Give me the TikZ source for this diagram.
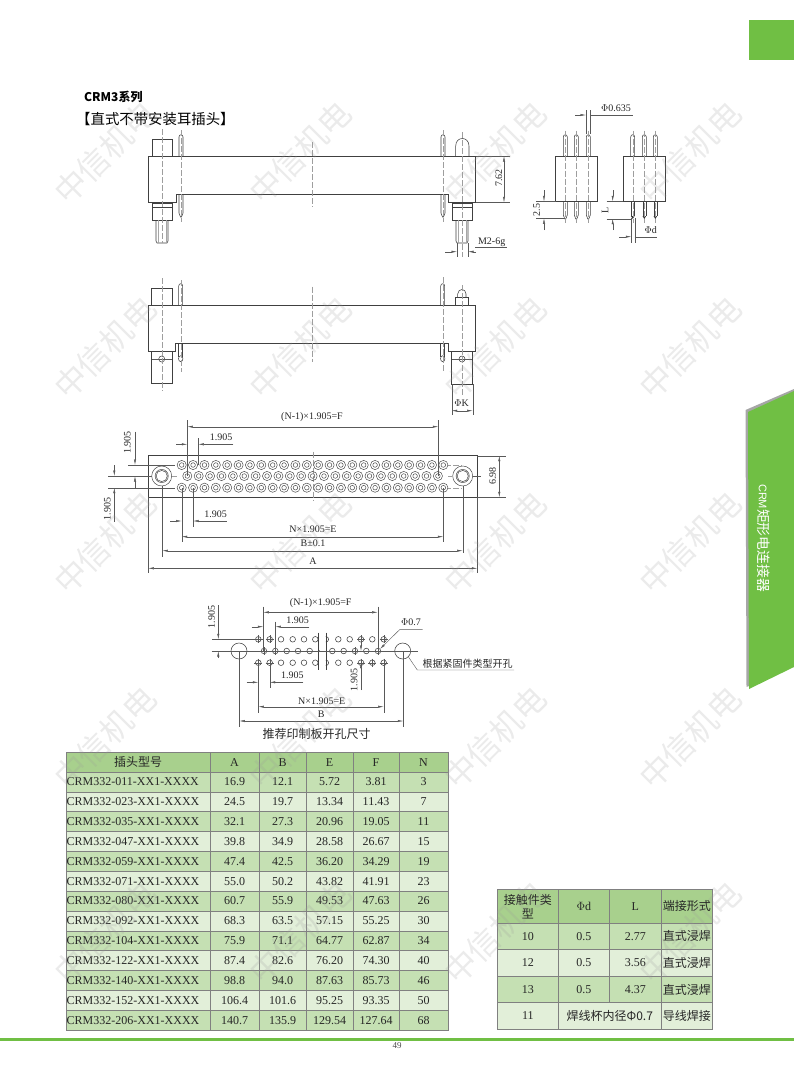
\documentclass[tikz,border=0pt]{standalone}
\usepackage{fontspec}
\setmainfont{Liberation Serif}
\newfontfamily\cjk{Noto Sans CJK SC}
\newfontfamily\arialfont{Liberation Sans}
\usetikzlibrary{arrows.meta}
\definecolor{pagegreen}{HTML}{70BF44}
\definecolor{headgreen}{HTML}{A8D08D}
\definecolor{rowdark}{HTML}{C5E0B3}
\definecolor{rowlight}{HTML}{E2EFD9}

\newcommand\pinrnd[3]{\draw[part] (#1-2,#3) -- (#1-2,#2+3) .. controls (#1-2,#2) and (#1+2,#2) .. (#1+2,#2+3) -- (#1+2,#3);}
\newcommand\pinlow[3]{\draw[part] (#1-2,#2) -- (#1-2,#3-4) -- (#1-.5,#3) -- (#1+.5,#3) -- (#1+2,#3-4) -- (#1+2,#2);}
\newcommand\pintip[3]{\draw[part] (#1-1.5,#2) -- (#1-1.5,#3-3) (#1+1.5,#2) -- (#1+1.5,#3-3); \fill[black!80] (#1-1.8,#3-3) -- (#1+1.8,#3-3) -- (#1,#3) -- cycle;}
\newcommand\pincup[3]{\draw[part] (#1-2,#2) -- (#1-2,#3-5) (#1+2,#2) -- (#1+2,#3-5); \draw[part] (#1,#3-3) ellipse[x radius=2.2,y radius=3];}
\newcommand\studside[1]{%
  \draw[part] (#1-10,203) rectangle (#1+10,220);
  \draw[part] (#1-10,207) -- (#1+10,207);
  \draw[part] (#1-6,220) -- (#1-6,241) -- (#1-5,243) -- (#1+5,243) -- (#1+6,241) -- (#1+6,220);
  \draw[part,black!35] (#1-4,220) -- (#1-4,243) (#1+4,220) -- (#1+4,243);
}
\newcommand\tabcell[7]{\node[tabcell,fill=#5,minimum width={(#3-#1)*1pt},minimum height={(#4-#2)*1pt}] (#6) at ({(#1+#3)/2},{(#2+#4)/2}) {#7};}

\begin{document}
\begin{tikzpicture}[x=1pt,y=-1pt,
  part/.style={line width=.55pt,draw=black!75},
  axisline/.style={line width=.4pt,draw=black!38,dash pattern=on 6pt off 2pt},
  dimline/.style={line width=.4pt,draw=black!65},
  dimtip/.style={dimline,-{Latex[length=5.5pt,width=2.2pt]}},
  dimboth/.style={dimline,{Latex[length=5.5pt,width=2.2pt]}-{Latex[length=5.5pt,width=2.2pt]}},
  dimtxt/.style={font=\fontsize{10}{11}\selectfont,inner sep=0pt,text=black!85},
  cjktxt/.style={font=\cjk\fontsize{#1}{#1}\selectfont,inner sep=0pt,text=black!85},
  tabcell/.style={draw=black!50,line width=.5pt,inner sep=0pt,font=\fontsize{12}{12}\selectfont,text=black!85},
  wmark/.style={font=\cjk\fontsize{32}{32}\selectfont,rotate=45,text=black!40,opacity=.2,inner sep=0pt}]
\useasboundingbox (0,0) rectangle (794,1077);

% page furniture
\fill[pagegreen] (749,20) rectangle (794,60);
\fill[black!35] (745.5,410) -- (794,389) -- (794,664) -- (746.5,687) -- cycle;
\fill[pagegreen] (748,412) -- (794,391) -- (794,667) -- (749,689) -- cycle;
\node[rotate=-90,inner sep=0pt,text=white,font=\arialfont\fontsize{11}{12}\selectfont] (sidetab) at (764,538) {CRM{\cjk\fontsize{13.8}{14}\selectfont 矩形电连接器}};
\fill[pagegreen] (0,1038) rectangle (794,1041);
\node[font=\fontsize{9}{9}\selectfont,text=black!70,inner sep=0pt] (pageno) at (397,1046) {49};

\node[font=\cjk\bfseries\fontsize{12}{12}\selectfont,inner sep=0pt,anchor=west] (title) at (84,97) {CRM3系列};
\node[cjktxt=14.4,anchor=west,text=black] (subtitle) at (76,119) {【直式不带安装耳插头】};

% view 1
\draw[part] (148.3,156) -- (475.7,156) -- (475.7,202.3) -- (448.3,202.3) -- (448.3,194.3) -- (176,194.3) -- (176,202.3) -- (148.3,202.3) -- cycle;
\draw[part] (152,156) -- (152,139) -- (172,139) -- (172,156);
\draw[part] (455.7,156) -- (455.7,146) .. controls (455.7,136) and (469,136) .. (469,146) -- (469,156);
\studside{162}
\studside{462}
\pinrnd{181}{134}{156}
\pinlow{181}{194.3}{217}
\pinrnd{443}{134}{156}
\pinlow{443}{194.3}{217}
\draw[axisline] (161.7,129) -- (161.7,243) (181,130) -- (181,222) (311.7,142) -- (311.7,207) (443,130) -- (443,222) (462,132) -- (462,257);
\draw[dimline] (476,156) -- (510,156) (476,202.3) -- (510,202.3);
\draw[dimboth] (504,156) -- (504,202.3);
\node[dimtxt,rotate=90] (lbl762) at (499,178) {7.62};
\node[dimtxt] (lblm2) at (491.7,242) {M2-6g};
\draw[dimline] (475,247) -- (507,247) (457,243) -- (457,257) (468,243) -- (468,257);
\draw[dimtip] (445,251.7) -- (457,251.7);
\draw[dimtip] (476,251.7) -- (468,251.7);

% side views
\draw[part] (555.7,156) rectangle (597.7,201.3);
\foreach \x in {565.3,576.3,588.3} {
  \pinrnd{\x}{134}{156}
  \pinlow{\x}{201.3}{219}
  \draw[axisline] (\x,130.7) -- (\x,223);
}
\draw[dimline] (586,110) -- (586,134) (590.3,110) -- (590.3,134) (590.3,115) -- (633,115);
\draw[dimtip] (575,115) -- (586,115);
\node[dimtxt] (lbl635) at (616,108) {$\Phi$0.635};
\draw[dimline] (536,201.3) -- (555.7,201.3) (536,218.3) -- (565,218.3);
\draw[dimtip] (544,190) -- (544,201.3);
\draw[dimtip] (544,230) -- (544,218.3);
\node[dimtxt,rotate=90] (lbl25) at (536.7,210) {2.5};

\draw[part] (623.3,156) rectangle (665.7,201.3);
\foreach \x in {632.7,644.3,655.3} {
  \pinrnd{\x}{134}{156}
  \pintip{\x}{201.3}{219}
  \draw[axisline] (\x,130.7) -- (\x,223);
}
\draw[dimline] (606.7,201.3) -- (623.3,201.3) (606.7,218.7) -- (632,218.7);
\draw[dimtip] (612.7,190) -- (612.7,201.3);
\draw[dimtip] (612.7,230) -- (612.7,218.7);
\node[dimtxt,rotate=90] (lblL) at (605,210) {L};
\draw[dimline] (631.3,218) -- (631.3,242.7) (634.7,218) -- (634.7,242.7) (634.7,236.7) -- (657,236.7);
\draw[dimtip] (619,236.7) -- (631.3,236.7);
\node[dimtxt] (lbld) at (650.7,230) {$\Phi$d};

% view 2
\draw[part] (148.3,305) -- (475.7,305) -- (475.7,351) -- (448.3,351) -- (448.3,343.3) -- (175.3,343.3) -- (175.3,351) -- (148.3,351) -- cycle;
\draw[part] (151.7,305) -- (151.7,288.3) -- (172,288.3) -- (172,305);
\draw[part] (151.7,351) rectangle (172.7,383.3);
\draw[part] (161.7,359) circle[radius=3];
\draw[part] (451.7,351) rectangle (472.7,384);
\draw[part] (462,359) circle[radius=3];
\draw[part] (455.7,305) rectangle (468.7,297.3);
\draw[part] (457.7,297.3) -- (457.7,294) .. controls (458,288) and (466,288) .. (466,294) -- (466,297.3);
\pinrnd{180.7}{283}{305}
\pincup{180.7}{343.3}{361.7}
\pinrnd{442.7}{283}{305}
\pincup{442.7}{343.3}{361.7}
\draw[dimline] (152,359) -- (172,359) (452,359) -- (472,359);
\draw[axisline] (161.7,278) -- (161.7,390.7) (180.7,280) -- (180.7,371.7) (311.7,286.7) -- (311.7,361.7) (442.7,277) -- (442.7,372) (462,285) -- (462,395);
\draw[dimline] (451.7,384) -- (451.7,415) (472.7,384) -- (472.7,415);
\draw[dimboth] (451.7,410.7) -- (472.7,410.7);
\node[dimtxt] (lblK) at (461.7,402.7) {$\Phi$K};

% view 3
\draw[part] (148.3,455.7) rectangle (477.3,497.3);
\draw[dimline] (108,476) -- (172,476) (128,465) -- (175,465) (108,487.7) -- (175,487.7) (472,476) -- (481,476);
\draw[axisline] (172,476) -- (177,476) (452,476) -- (448,476) (445,465) -- (462,465) (445,487.7) -- (462,487.7) (312.7,451.7) -- (312.7,501);
\foreach \n in {0,...,23} {
  \draw[part,line width=.45pt,fill=white] (181.7+\n*11.375,465) circle[radius=4.6];
  \draw[part,line width=.45pt] (181.7+\n*11.375,465) circle[radius=2.3];
  \draw[part,line width=.45pt,fill=white] (181.7+\n*11.375,487.7) circle[radius=4.6];
  \draw[part,line width=.45pt] (181.7+\n*11.375,487.7) circle[radius=2.3];
}
\foreach \n in {0,...,22} {
  \draw[part,line width=.45pt] (187.3+\n*11.39,476) circle[radius=4.6] circle[radius=2.3];
}
\foreach \x in {161.7,462.7} {
  \draw[part,line width=.45pt,fill=white] (\x,476) circle[radius=10];
  \draw[part,line width=.45pt] (\x,476) circle[radius=6.6] circle[radius=5.6];
}
\draw[dimline] (187.3,420) -- (187.3,476) (198.3,438) -- (198.3,465) (438.3,420) -- (438.3,476);
\draw[dimboth] (187.3,426.7) -- (438.3,426.7);
\node[dimtxt] (lblF) at (312,417) {(N-1)×1.905=F};
\draw[dimtip] (176,444.3) -- (187.3,444.3);
\draw[dimtip] (233.3,444.3) -- (198.3,444.3);
\node[dimtxt] (lblw1) at (221,437.3) {1.905};
\draw[dimtip] (135,431.7) -- (135,465);
\draw[dimtip] (135,488) -- (135,476);
\node[dimtxt,rotate=90] (lblh1) at (127.3,442.3) {1.905};
\draw[dimtip] (114.3,465) -- (114.3,476);
\draw[dimtip] (114.3,521.7) -- (114.3,487.7);
\node[dimtxt,rotate=90] (lblh2) at (107.3,509) {1.905};
\draw[dimline] (181.7,488) -- (181.7,541.7) (193,488) -- (193,526.7);
\draw[dimtip] (170,521) -- (181.7,521);
\draw[dimtip] (226.7,521) -- (193,521);
\node[dimtxt] (lblw2) at (215.7,514) {1.905};
\draw[dimboth] (181.7,536.7) -- (443.3,536.7);
\draw[dimline] (443.3,488) -- (443.3,541.7);
\node[dimtxt] (lblE) at (313,529) {N×1.905=E};
\draw[dimline] (162.3,486) -- (162.3,556.7) (462.7,486) -- (462.7,553);
\draw[dimboth] (162.3,550.7) -- (462.7,550.7);
\node[dimtxt] (lblB) at (313,543) {B±0.1};
\draw[dimline] (148.3,497.3) -- (148.3,573) (477.3,497.3) -- (477.3,573);
\draw[dimboth] (148.3,568.3) -- (477.3,568.3);
\node[dimtxt] (lblA) at (313,560.7) {A};
\draw[dimline] (477,455.7) -- (505.7,455.7) (477,497.3) -- (505.7,497.3);
\draw[dimboth] (499.3,455.7) -- (499.3,497.3);
\node[dimtxt,rotate=90] (lbl698) at (492.7,476) {6.98};

% view 4
\foreach \x in {258.3,269.7,281,292.7,304,315.3,338.3,349.7,361,372.3,383.7} {
  \draw[part] (\x,639.3) circle[radius=2.8];
  \draw[part] (\x,662.7) circle[radius=2.8];
}
\foreach \x in {264,275.3,286.7,298,309.7,332.3,343.7,355,366.3,378} {
  \draw[part] (\x,651) circle[radius=2.8];
}
\draw[part] (325.8,636.5) arc[start angle=-90,end angle=90,radius=2.8];
\draw[part] (325.8,660) arc[start angle=-90,end angle=90,radius=2.8];
\draw[part] (239,651) circle[radius=8];
\draw[part] (402.7,651) circle[radius=8];
\draw[part] (318.3,632.7) -- (318.3,670) (326,632.7) -- (326,670);
\fill[black!80] (319,651) circle[radius=.8];
\draw[dimline] (211.7,651) -- (418,651) (212.3,639.3) -- (263,639.3) (255,662.7) -- (262,662.7);
\foreach \x/\y in {258.3/639.3,269.7/639.3,383.7/639.3,361/639.3,264/651,275.3/651,355/651,378/651,258.3/662.7,269.7/662.7,361/662.7,372.3/662.7,383.7/662.7} {
  \draw[dimline] (\x-4,\y) -- (\x+4,\y) (\x,\y-4) -- (\x,\y+4);
}
\draw[dimtip] (218.3,605) -- (218.3,639.3);
\draw[dimtip] (218.3,658) -- (218.3,651);
\node[dimtxt,rotate=90] (lblh3) at (211.7,617) {1.905};
\draw[dimline] (263.3,606.7) -- (263.3,651) (377.7,606.7) -- (377.7,651) (275.3,621.7) -- (275.3,651);
\draw[dimboth] (263.3,612.3) -- (377.7,612.3);
\node[dimtxt] (lblF4) at (320.7,602.7) {(N-1)×1.905=F};
\draw[dimtip] (251.7,626.7) -- (263.3,626.7);
\draw[dimtip] (309.3,626.7) -- (275.3,626.7);
\node[dimtxt] (lblw3) at (297.7,620) {1.905};
\draw[dimline] (258.3,662.7) -- (258.3,712.7) (269.7,662.7) -- (269.7,688) (383.7,662.7) -- (383.7,712.7);
\draw[dimtip] (246.7,682.3) -- (258.3,682.3);
\draw[dimtip] (303.3,682.3) -- (269.7,682.3);
\node[dimtxt] (lblw4) at (292.3,675) {1.905};
\draw[dimline] (361,638) -- (361,645);
\draw[dimtip] (361,640) -- (361,651);
\draw[dimtip] (361,690) -- (361,662.7);
\node[dimtxt,rotate=90] (lblh4) at (354,680) {1.905};
\draw[dimboth] (258.3,706.7) -- (383.7,706.7);
\node[dimtxt] (lblE4) at (321.7,701) {N×1.905=E};
\draw[dimline] (239.3,651) -- (239.3,726.7) (403.3,651) -- (403.3,726.7);
\draw[dimboth] (239.3,721) -- (403.3,721);
\node[dimtxt] (lblB4) at (321.3,714) {B};
\draw[dimtip] (422.7,629.3) -- (400,629.3) -- (380,649);
\node[dimtxt] (lblhole) at (411,622.3) {$\Phi$0.7};
\draw[dimline] (408.3,656.7) -- (417.3,670) -- (514,670);
\node[cjktxt=10] (lblnote) at (467.7,663.3) {根据紧固件类型开孔};
\node[cjktxt=12] (lblcap) at (316.7,734) {推荐印制板开孔尺寸};

% table 1
\tabcell{66}{752.3}{210}{772}{headgreen}{h0}{\cjk 插头型号}
\foreach \hd/\xa/\xb [count=\cl] in {A/210/259,B/259/306,E/306/353,F/353/399,N/399/448} {
  \tabcell{\xa}{752.3}{\xb}{772}{headgreen}{h\cl}{\hd}
}
\foreach \nm/\va/\vb/\ve/\vf/\vn [count=\rw] in {
  CRM332-011-XX1-XXXX/16.9/12.1/5.72/3.81/3,
  CRM332-023-XX1-XXXX/24.5/19.7/13.34/11.43/7,
  CRM332-035-XX1-XXXX/32.1/27.3/20.96/19.05/11,
  CRM332-047-XX1-XXXX/39.8/34.9/28.58/26.67/15,
  CRM332-059-XX1-XXXX/47.4/42.5/36.20/34.29/19,
  CRM332-071-XX1-XXXX/55.0/50.2/43.82/41.91/23,
  CRM332-080-XX1-XXXX/60.7/55.9/49.53/47.63/26,
  CRM332-092-XX1-XXXX/68.3/63.5/57.15/55.25/30,
  CRM332-104-XX1-XXXX/75.9/71.1/64.77/62.87/34,
  CRM332-122-XX1-XXXX/87.4/82.6/76.20/74.30/40,
  CRM332-140-XX1-XXXX/98.8/94.0/87.63/85.73/46,
  CRM332-152-XX1-XXXX/106.4/101.6/95.25/93.35/50,
  CRM332-206-XX1-XXXX/140.7/135.9/129.54/127.64/68} {
  \pgfmathsetmacro\ya{772+(\rw-1)*19.85}
  \pgfmathsetmacro\yb{\ya+19.85}
  \ifodd\rw\relax\def\rowc{rowdark}\else\def\rowc{rowlight}\fi
  \tabcell{66}{\ya}{210}{\yb}{\rowc}{m\rw}{}
  \node[anchor=west,inner sep=0pt,font=\fontsize{12}{12}\selectfont,text=black!85] (n\rw) at (66.5,{(\ya+\yb)/2}) {\nm};
  \tabcell{210}{\ya}{259}{\yb}{\rowc}{a\rw}{\va}
  \tabcell{259}{\ya}{306}{\yb}{\rowc}{b\rw}{\vb}
  \tabcell{306}{\ya}{353}{\yb}{\rowc}{e\rw}{\ve}
  \tabcell{353}{\ya}{399}{\yb}{\rowc}{f\rw}{\vf}
  \tabcell{399}{\ya}{448}{\yb}{\rowc}{v\rw}{\vn}
}

% table 2
\tabcell{497.3}{889.3}{558.3}{923.3}{headgreen}{k0}{\cjk\shortstack{接触件类\\型}}
\tabcell{558.3}{889.3}{609.3}{923.3}{headgreen}{k1}{$\Phi$d}
\tabcell{609.3}{889.3}{661.3}{923.3}{headgreen}{k2}{L}
\tabcell{661.3}{889.3}{712.3}{923.3}{headgreen}{k3}{\cjk 端接形式}
\foreach \tp/\dd/\ll/\ya/\yb/\rowc [count=\rw] in {10/0.5/2.77/923.3/949.3/rowdark,12/0.5/3.56/949.3/976.7/rowlight,13/0.5/4.37/976.7/1002.7/rowdark} {
  \tabcell{497.3}{\ya}{558.3}{\yb}{\rowc}{p\rw}{\tp}
  \tabcell{558.3}{\ya}{609.3}{\yb}{\rowc}{q\rw}{\dd}
  \tabcell{609.3}{\ya}{661.3}{\yb}{\rowc}{r\rw}{\ll}
  \tabcell{661.3}{\ya}{712.3}{\yb}{\rowc}{s\rw}{\cjk 直式浸焊}
}
\tabcell{497.3}{1002.7}{558.3}{1029.3}{rowlight}{p4}{11}
\tabcell{558.3}{1002.7}{661.3}{1029.3}{rowlight}{q4}{\cjk 焊线杯内径Φ0.7}
\tabcell{661.3}{1002.7}{712.3}{1029.3}{rowlight}{s4}{\cjk 导线焊接}

% watermark
\foreach \wy [count=\wr] in {153,348,543,738,933} {
  \foreach \wx [count=\wc] in {105,300,495,690} {
    \node[wmark] (wm\wr\wc) at (\wx,\wy) {中信机电};
  }
}
\end{tikzpicture}
\end{document}
